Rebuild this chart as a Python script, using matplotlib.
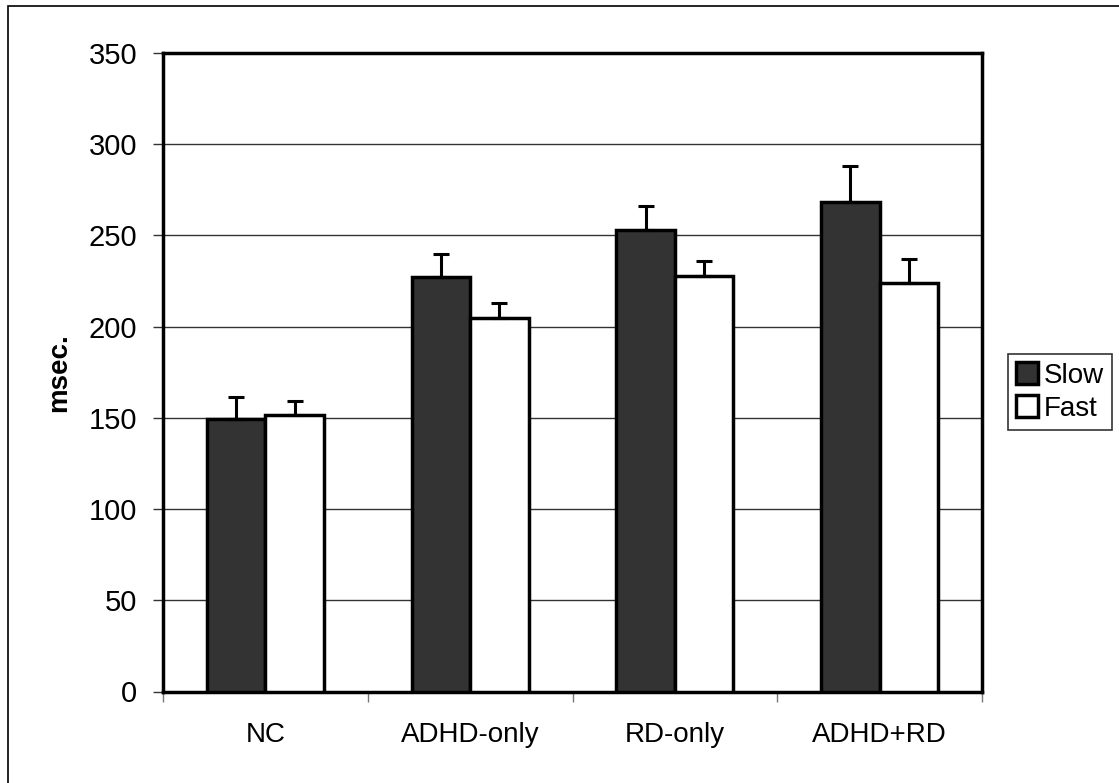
import numpy as np
import matplotlib
matplotlib.use('Agg')
import matplotlib.pyplot as plt
from matplotlib.patches import Rectangle

# ========== data ==========
groups = ['NC', 'ADHD-only', 'RD-only', 'ADHD+RD']
slow = [149.5, 227, 253, 268.5]
slow_err = [12, 13, 13, 19.5]
fast = [151.5, 205, 228, 224]
fast_err = [8, 8, 8, 13]
yticks = [0, 50, 100, 150, 200, 250, 300, 350]

plt.rcParams['font.family'] = ['Liberation Sans', 'DejaVu Sans']

W, H = 1119, 783
fig = plt.figure(figsize=(W / 100, H / 100), dpi=100)
ax = fig.add_axes([163 / W, 1 - 691.5 / H, (982 - 163) / W, (691.5 - 53) / H])

x = np.arange(len(groups))
w = 1 / 3.5  # excel gap width 150%

ax.bar(x - w / 2, slow, w, color='#333333', edgecolor='black', linewidth=2.5,
       label='Slow', zorder=3)
ax.bar(x + w / 2, fast, w, color='white', edgecolor='black', linewidth=2.5,
       label='Fast', zorder=3)

# upward-only error bars
ax.errorbar(x - w / 2, slow, yerr=[np.zeros(len(slow)), slow_err], fmt='none',
            ecolor='black', elinewidth=2.2, capsize=6, capthick=2.2, zorder=4)
ax.errorbar(x + w / 2, fast, yerr=[np.zeros(len(fast)), fast_err], fmt='none',
            ecolor='black', elinewidth=2.2, capsize=6, capthick=2.2, zorder=4)

ax.set_xlim(-0.5, len(groups) - 0.5)
ax.set_ylim(0, 350)
ax.set_yticks(yticks)
ax.set_yticklabels([str(t) for t in yticks], fontsize=21)
ax.yaxis.grid(True, color='#333333', linewidth=1.0, zorder=0)

ax.set_xticks(x)
ax.set_xticklabels(groups, fontsize=20)
ax.set_xticks(np.arange(-0.5, len(groups)), minor=True)
ax.tick_params(axis='x', which='major', length=0, pad=22)
ax.tick_params(axis='x', which='minor', length=7.5, width=1, color='#777777', direction='out')
ax.tick_params(axis='y', length=7.2, width=1, color='#333333', pad=11.5)

for s in ax.spines.values():
    s.set_linewidth(2.5)
    s.set_color('black')

ax.set_ylabel('msec.', fontsize=20, fontweight='bold')
ax.yaxis.set_label_coords((72 - 163) / (982 - 163), 0.5)

leg = fig.legend(loc='center', bbox_to_anchor=(1060 / W, 1 - 392 / H),
                 fontsize=20, frameon=True, fancybox=False, edgecolor='black',
                 handlelength=0.8, handleheight=0.8, handletextpad=0.2,
                 borderpad=0.3, labelspacing=0.25)
leg.get_frame().set_linewidth(1.2)

# outer chart border (only top/left visible)
fig.patches.append(Rectangle((8 / W, -0.1), 1.2, 1 - 6 / H + 0.1,
                             transform=fig.transFigure, fill=False,
                             edgecolor='black', linewidth=1.2))

fig.savefig('out.png', dpi=100)
